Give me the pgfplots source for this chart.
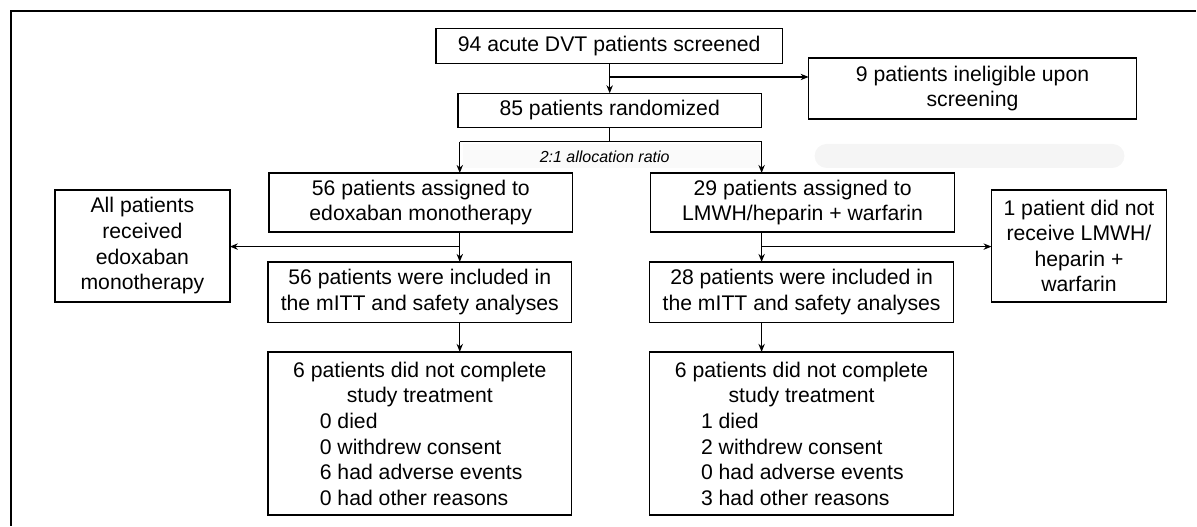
\documentclass[border=0pt]{standalone}
\usepackage{pgfplots}
\pgfplotsset{compat=1.18}
\usetikzlibrary{arrows.meta}
\usepackage{fontspec}
\setmainfont{Liberation Sans}
\begin{document}
\begin{tikzpicture}[
  box/.style={draw=black, line width=0.75pt},
  arr/.style={line width=0.6pt, -{Stealth[length=4pt,width=3.2pt]}},
  ln/.style={line width=0.6pt},
  txt/.style={font=\fontsize{10.6}{12.8}\selectfont, align=center, inner sep=0pt},
  sub/.style={font=\fontsize{10.6}{12.8}\selectfont, inner sep=0pt, anchor=base west},
  ctr/.style={font=\fontsize{10.6}{12.8}\selectfont, inner sep=0pt, anchor=base},
]
\begin{axis}[
  width=598.5pt, height=263pt, scale only axis,
  xmin=0, xmax=1197, ymin=0, ymax=526, y dir=reverse,
  axis lines=none, clip=false,
]
\path (0,0) rectangle (1197,526);
% faint background artefacts
\fill[black!4, rounded corners=6pt] (815,144) rectangle (1125,168);
\fill[black!2] (463,144) rectangle (760,168);
% outer frame
\draw[line width=0.6pt] (11,526) -- (11,11) -- (1197,11);
% boxes
\draw[box] (436,28.3) rectangle (783,63.3);
\node[txt] at (609.5,45.8) {94 acute DVT patients screened};
\draw[box] (809,58) rectangle (1137,119);
\node[txt] at (973,88.5) {9 patients ineligible upon\\screening};
\draw[box] (458,93.3) rectangle (762,127.7);
\node[txt] at (610,110.5) {85 patients randomized};
\node[font=\fontsize{8}{9.6}\selectfont\itshape, inner sep=0pt] at (605,157) {2:1 allocation ratio};
\draw[box] (269,173) rectangle (573,232);
\node[txt] at (421,202.5) {56 patients assigned to\\edoxaban monotherapy};
\draw[box] (651,173) rectangle (955,232);
\node[txt] at (803,202.5) {29 patients assigned to\\LMWH/heparin + warfarin};
\draw[box] (55,190) rectangle (230,302);
\node[txt] at (142.5,246) {All patients\\received\\edoxaban\\monotherapy};
\draw[box] (992,190) rectangle (1167,302);
\node[txt] at (1079.5,246) {1 patient did not\\receive LMWH/\\heparin +\\warfarin};
\draw[box] (268,262) rectangle (572,322.5);
\node[txt] at (420,292) {56 patients were included in\\the mITT and safety analyses};
\draw[box] (650,262) rectangle (954,322.5);
\node[txt] at (802,292) {28 patients were included in\\the mITT and safety analyses};
\draw[box] (268,352) rectangle (572,515);
\node[ctr] at (420,377.5) {6 patients did not complete};
\node[ctr] at (420,403.1) {study treatment};
\node[sub] at (319.6,428.7) {0 died};
\node[sub] at (319.6,454.3) {0 withdrew consent};
\node[sub] at (319.6,479.9) {6 had adverse events};
\node[sub] at (319.6,505.5) {0 had other reasons};
\draw[box] (650,352) rectangle (954,515);
\node[ctr] at (802,377.5) {6 patients did not complete};
\node[ctr] at (802,403.1) {study treatment};
\node[sub] at (701,428.7) {1 died};
\node[sub] at (701,454.3) {2 withdrew consent};
\node[sub] at (701,479.9) {0 had adverse events};
\node[sub] at (701,505.5) {3 had other reasons};
% connectors
\draw[arr] (610,63.3) -- (610,93.3);
\draw[arr] (610,77) -- (809,77);
\draw[ln] (610,127.7) -- (610,141.7);
\draw[ln] (460,141.7) -- (762,141.7);
\draw[arr] (460,141.7) -- (460,173);
\draw[arr] (762,141.7) -- (762,173);
\draw[arr] (460,232) -- (460,262);
\draw[arr] (460,246.7) -- (230,246.7);
\draw[arr] (762,232) -- (762,262);
\draw[arr] (762,246.7) -- (992,246.7);
\draw[arr] (460,322.5) -- (460,352);
\draw[arr] (762,322.5) -- (762,352);
\end{axis}
\end{tikzpicture}
\end{document}
